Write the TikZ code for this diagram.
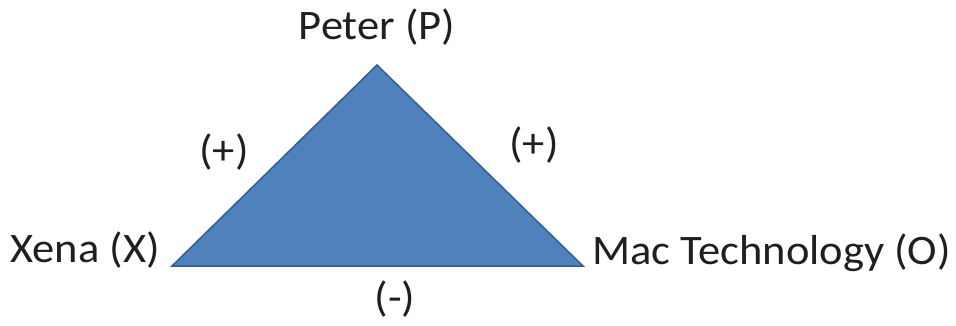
\documentclass[tikz,border=0pt]{standalone}
\usepackage{fontspec}
\setmainfont{Carlito}[FakeStretch=1.06]
\definecolor{trifill}{HTML}{4F81BD}
\definecolor{triline}{HTML}{385D8A}
\begin{document}
\begin{tikzpicture}[x=1pt,y=1pt,
  lbl/.style={font=\fontsize{42}{50}\selectfont, text=black!88, inner sep=0pt}]
\useasboundingbox (0,0) rectangle (956,325);
\coordinate (P) at (377,260);
\coordinate (X) at (172,59);
\coordinate (O) at (583,59);
\filldraw[fill=trifill, draw=triline, line width=1.5pt, line join=miter] (P) -- (X) -- (O) -- cycle;
\node[lbl, anchor=base] (lp) at (377,286) {Peter (P)};
\node[lbl, anchor=base east] (lx) at (160,63) {Xena (X)};
\node[lbl, anchor=base west] (lo) at (592,61) {Mac Technology (O)};
\node[lbl] (pl) at (224,173) {(+)};
\node[lbl] (pr) at (534,180) {(+)};
\node[lbl] (mi) at (395,26) {(-)};
\end{tikzpicture}
\end{document}
